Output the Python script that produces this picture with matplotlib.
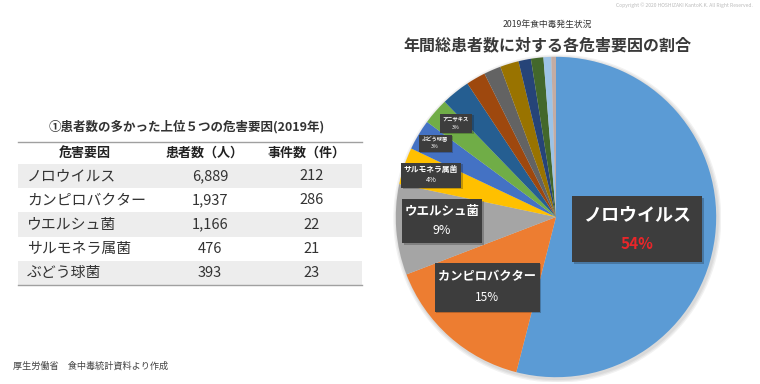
import matplotlib
matplotlib.use('Agg')
import matplotlib.pyplot as plt
from matplotlib.patches import Rectangle, Circle
import matplotlib.patheffects as pe

plt.rcParams['font.family'] = ['Noto Sans CJK JP', 'DejaVu Sans']

# table: top 5 hazards (2019)
hazards = ['ノロウイルス', 'カンピロバクター', 'ウエルシュ菌', 'サルモネラ属菌', 'ぶどう球菌']
patients = [6889, 1937, 1166, 476, 393]
incidents = [212, 286, 22, 21, 23]
table_header = ['危害要因', '患者数（人）', '事件数（件）']

# pie: patients by hazard (small slices)
pie_names = ['ノロウイルス', 'カンピロバクター', 'ウエルシュ菌', 'サルモネラ属菌', 'ぶどう球菌',
             'アニサキス', 'その他1', 'その他2', 'その他3', 'その他4', 'その他5', 'その他6',
             'その他7', 'その他8']
pie_values = [6889, 1937, 1166, 476, 393, 340, 370, 250, 220, 240, 160, 160, 100, 60]
pie_colors = ['#5B9BD5', '#ED7D31', '#A5A5A5', '#FFC000', '#4472C4', '#70AD47',
              '#255E91', '#9E480E', '#636363', '#997300', '#264478', '#43682B',
              '#9DC3E6', '#C4ACA3']

# label boxes: center x, center y, width, height (pixels), name size, pct size
label_layout = {
    'ノロウイルス': (637, 229, 130, 66, 13, 11),
    'カンピロバクター': (487, 287, 105, 49, 8.8, 8.5),
    'ウエルシュ菌': (442, 221, 80, 44, 9, 9),
    'サルモネラ属菌': (431, 175, 60, 25, 5.6, 5.3),
    'ぶどう球菌': (435, 143, 33, 17, 3.8, 3.8),
    'アニサキス': (456, 123, 32, 19, 3.8, 3.8),
}

fig = plt.figure(figsize=(7.6, 3.84), dpi=100)

# pie
cx, cy, r = 556, 217, 160
ax = fig.add_axes([(cx - 165) / 760, (384 - cy - 165) / 384, 330 / 760, 330 / 384])
# soft shadow
for k, a in enumerate([0.05, 0.05, 0.05]):
    ax.add_patch(Circle((0.008, -0.01), 1.0 + 0.008 * (k + 1), color='#000000', alpha=a,
                        zorder=0, lw=0))
ax.pie(pie_values, colors=pie_colors, startangle=90, counterclock=False, radius=1,
       wedgeprops=dict(linewidth=0))
ax.set_xlim(-1.03, 1.03)
ax.set_ylim(-1.03, 1.03)
ax.axis('off')

# overlay in pixel units
bg = fig.add_axes([0, 0, 1, 1])
bg.set_xlim(0, 760)
bg.set_ylim(384, 0)
bg.axis('off')
bg.set_zorder(3)
bg.patch.set_alpha(0)

total = sum(pie_values)
for name, (lx, ly, w, h, fs1, fs2) in label_layout.items():
    v = pie_values[pie_names.index(name)]
    pct = round(v / total * 100)
    box = Rectangle((lx - w / 2, ly - h / 2), w, h, facecolor='#3D3D3D', edgecolor='none',
                    path_effects=[pe.SimplePatchShadow(offset=(1.2, -1.2), alpha=0.25), pe.Normal()])
    bg.add_patch(box)
    bg.text(lx, ly - h / 2 + h * 0.28, name, color='white', fontsize=fs1, fontweight='bold',
            ha='center', va='center')
    bg.text(lx, ly - h / 2 + h * 0.72, f'{pct}%',
            color='#E8262A' if name == 'ノロウイルス' else 'white',
            fontsize=fs2, fontweight='bold' if name == 'ノロウイルス' else 'normal',
            ha='center', va='center')

# titles
bg.text(547, 24, '2019年食中毒発生状況', fontsize=6.3, color='#333333', ha='center', va='center')
bg.text(547, 45, '年間総患者数に対する各危害要因の割合', fontsize=11.5, fontweight='bold',
        color='#3A3A3A', ha='center', va='center')
bg.text(753, 5, 'Copyright © 2020 HOSHIZAKI KantoK.K. All Right Reserved.', fontsize=3.6,
        color='#BBBBBB', ha='right', va='center')
bg.text(13, 366, '厚生労働省　食中毒統計資料より作成', fontsize=6.6, color='#444444',
        ha='left', va='center')

# table
bg.text(187, 127, '①患者数の多かった上位５つの危害要因(2019年)', fontsize=9, fontweight='bold',
        color='#333333', ha='center', va='center')
bg.plot([18, 362], [142, 142], color='#A0A0A0', lw=1)
header_x = [85, 205, 307]
for hx, t in zip(header_x, table_header):
    bg.text(hx, 153, t, fontsize=9.4, fontweight='bold', color='#222222', ha='center', va='center')
row_h = 24.3
for i, (hz, p, n) in enumerate(zip(hazards, patients, incidents)):
    ry = 176 + i * row_h
    if i % 2 == 0:
        bg.add_patch(Rectangle((18, ry - row_h / 2), 344, row_h, facecolor='#EDEDED', edgecolor='none'))
    bg.text(27, ry, hz, fontsize=10.7, color='#333333', ha='left', va='center')
    bg.text(210, ry, f'{p:,}', fontsize=10.5, color='#333333', ha='center', va='center')
    bg.text(312, ry, str(n), fontsize=10.5, color='#333333', ha='center', va='center')
bg.plot([18, 362], [176 + 4.5 * row_h, 176 + 4.5 * row_h], color='#A0A0A0', lw=1)

fig.savefig('out.png', dpi=100)
